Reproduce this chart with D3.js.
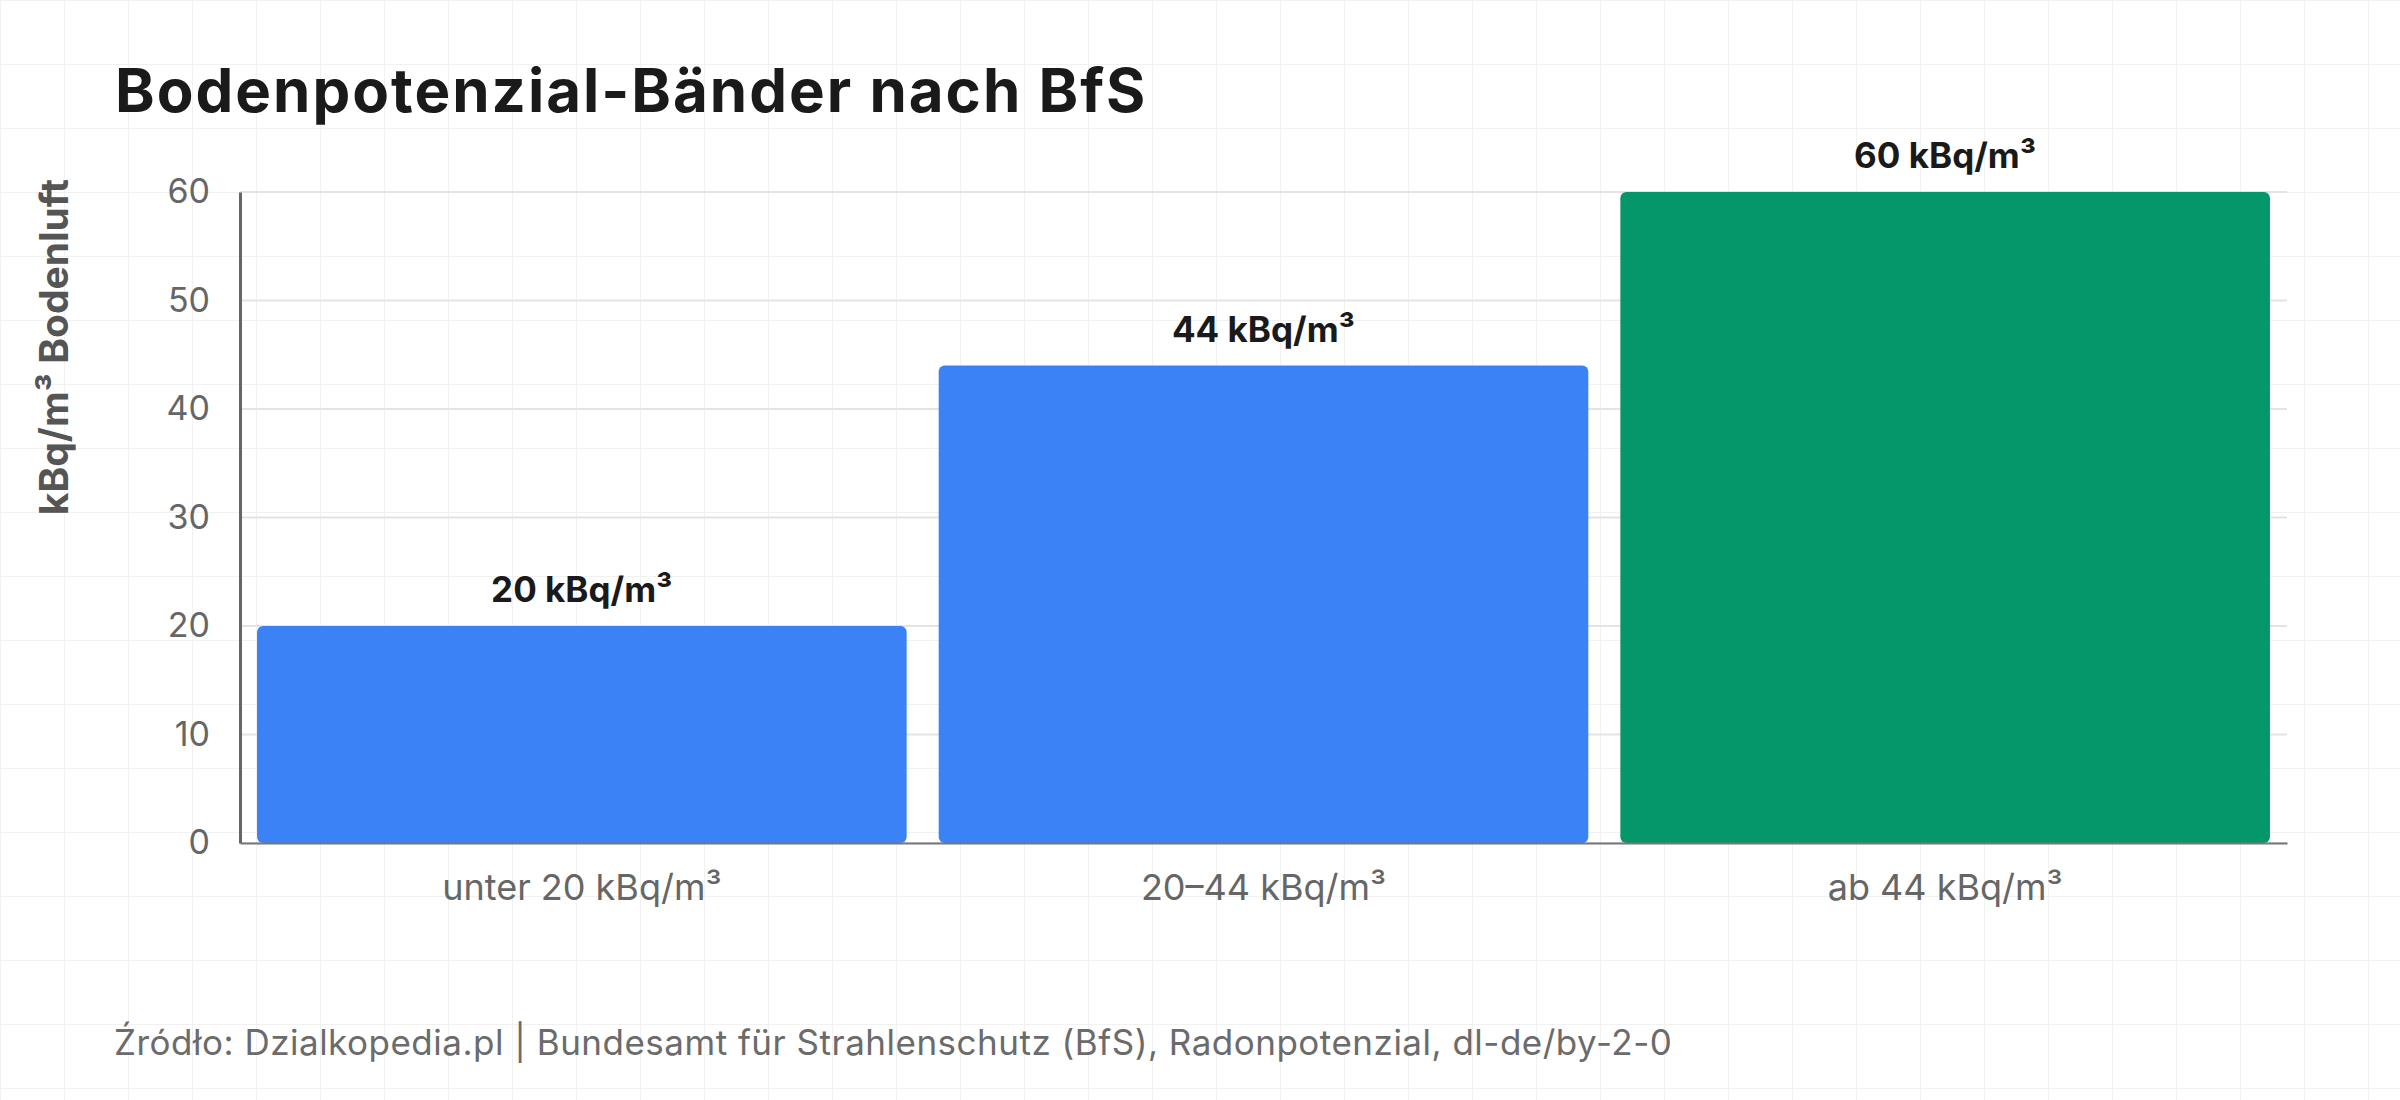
<!DOCTYPE html>
<html>
<head>
<meta charset="utf-8">
<script src="https://cdn.jsdelivr.net/npm/d3@7"></script>
<style>
  html, body { margin: 0; padding: 0; background: #ffffff; }
  svg { display: block; font-family: Inter, "Noto Sans", sans-serif; }
</style>
</head>
<body>
<svg id="chart" width="2400" height="1100"></svg>
<script>
const categories = ["unter 20 kBq/m³", "20–44 kBq/m³", "ab 44 kBq/m³"];
const values = [20, 44, 60];
const valueLabels = ["20 kBq/m³", "44 kBq/m³", "60 kBq/m³"];
const barColors = ["#3b82f6", "#3b82f6", "#059669"];
const yTicks = [0, 10, 20, 30, 40, 50, 60];
const titleText = "Bodenpotenzial-Bänder nach BfS";
const yAxisTitle = "kBq/m³ Bodenluft";
const sourceText = "Źródło: Dzialkopedia.pl | Bundesamt für Strahlenschutz (BfS), Radonpotenzial, dl-de/by-2-0";

const W = 2400, H = 1100;
const margin = { left: 240, right: 113, top: 192, bottom: 257 };
const svg = d3.select("#chart");

// background grid pattern
const defs = svg.append("defs");
const pat = defs.append("pattern").attr("id", "bg").attr("width", 64).attr("height", 64)
  .attr("patternUnits", "userSpaceOnUse");
pat.append("rect").attr("width", 64).attr("height", 64).attr("fill", "#ffffff");
pat.append("path").attr("d", "M0 0 H64 M0 0 V64").attr("stroke", "#f1f1f1").attr("stroke-width", 2).attr("fill", "none");
svg.append("rect").attr("width", W).attr("height", H).attr("fill", "url(#bg)");

const x = d3.scaleBand().domain(categories)
  .range([margin.left, W - margin.right])
  .paddingInner(0.047).paddingOuter(0.025);
const y = d3.scaleLinear().domain([0, 60]).range([H - margin.bottom, margin.top]);

// horizontal gridlines
svg.append("g").selectAll("line").data(yTicks).join("line")
  .attr("x1", margin.left).attr("x2", W - margin.right)
  .attr("y1", d => y(d)).attr("y2", d => y(d))
  .attr("stroke", "#e4e4e4").attr("stroke-width", 2);

// bars
svg.append("g").selectAll("rect").data(values).join("rect")
  .attr("x", (d, i) => x(categories[i]))
  .attr("y", d => y(d))
  .attr("width", x.bandwidth())
  .attr("height", d => y(0) - y(d))
  .attr("rx", 6).attr("ry", 6)
  .attr("fill", (d, i) => barColors[i]);

// value labels
svg.append("g").selectAll("text").data(values).join("text")
  .attr("x", (d, i) => x(categories[i]) + x.bandwidth() / 2)
  .attr("y", d => y(d) - 24)
  .attr("text-anchor", "middle")
  .attr("font-size", 35).attr("font-weight", 700).attr("fill", "#1a1a1a")
  .text((d, i) => valueLabels[i]);

// y axis
const yAxis = svg.append("g").attr("transform", `translate(${margin.left},0)`)
  .call(d3.axisLeft(y).tickValues(yTicks).tickSize(0).tickPadding(30));
yAxis.select(".domain").attr("stroke", "#666").attr("stroke-width", 3);
yAxis.selectAll("text").attr("font-size", 34).attr("fill", "#666").attr("font-family", "Inter, sans-serif");

// x axis
const xAxis = svg.append("g").attr("transform", `translate(0,${y(0)})`)
  .call(d3.axisBottom(x).tickSize(0).tickPadding(31));
xAxis.select(".domain").attr("stroke", "#777").attr("stroke-width", 2);
xAxis.selectAll("text").attr("font-size", 36).attr("fill", "#666").attr("font-family", "Inter, sans-serif");

// title
svg.append("text").attr("x", 115).attr("y", 112)
  .attr("font-size", 60).attr("font-weight", 700).attr("letter-spacing", 2).attr("fill", "#1a1a1a")
  .text(titleText);

// y axis title
svg.append("text")
  .attr("transform", "translate(68,347) rotate(-90)")
  .attr("text-anchor", "middle")
  .attr("font-size", 39).attr("font-weight", 700).attr("fill", "#555")
  .text(yAxisTitle);

// source
svg.append("text").attr("x", 114).attr("y", 1055)
  .attr("font-size", 35).attr("letter-spacing", 0.5).attr("fill", "#6b6b6b")
  .text(sourceText);
</script>
</body>
</html>
